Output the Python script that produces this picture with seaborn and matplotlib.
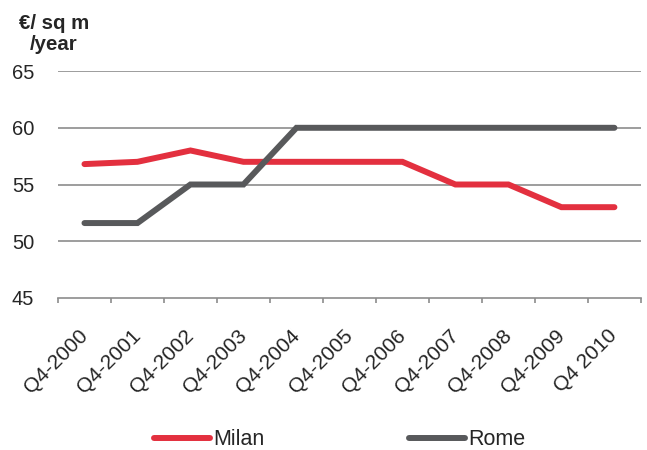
import numpy as np
import pandas as pd
import matplotlib
matplotlib.use("Agg")
import matplotlib.pyplot as plt
import seaborn as sns
from matplotlib.lines import Line2D

periods = ["Q4-2000", "Q4-2001", "Q4-2002", "Q4-2003", "Q4-2004", "Q4-2005",
           "Q4-2006", "Q4-2007", "Q4-2008", "Q4-2009", "Q4 2010"]
milan = [56.8, 57.0, 58.0, 57.0, 57.0, 57.0, 57.0, 55.0, 55.0, 53.0, 53.0]
rome = [51.6, 51.6, 55.0, 55.0, 60.0, 60.0, 60.0, 60.0, 60.0, 60.0, 60.0]
y_ticks = [45, 50, 55, 60, 65]

RED = "#E3303F"
GREY = "#58595B"
AXIS_GREY = "#8C8C8C"

df = pd.DataFrame({
    "idx": list(range(len(periods))) * 2,
    "value": milan + rome,
    "city": ["Milan"] * len(periods) + ["Rome"] * len(periods),
})

sns.set_style("white")
plt.rcParams["font.family"] = ["Liberation Sans", "DejaVu Sans"]

fig = plt.figure(figsize=(6.47, 4.5), dpi=100)
ax = fig.add_axes([0.0896, 0.338, 0.901, 0.504])

sns.lineplot(data=df, x="idx", y="value", hue="city",
             palette={"Milan": RED, "Rome": GREY}, linewidth=4.3,
             solid_capstyle="round", solid_joinstyle="miter",
             legend=False, ax=ax, zorder=3)

ax.set_xlim(-0.5, len(periods) - 0.5)
ax.set_ylim(45, 65)
ax.set_yticks(y_ticks)
ax.set_yticklabels([str(v) for v in y_ticks], fontsize=14.5)
for v in y_ticks[1:]:
    ax.axhline(v, color=AXIS_GREY, linewidth=1.2, zorder=1)

ax.set_xticks(range(len(periods)))
ax.set_xticklabels(periods, rotation=45, ha="right", va="center",
                   rotation_mode="anchor", fontsize=15)
ax.set_xticks(np.arange(-0.5, len(periods), 1.0), minor=True)
ax.tick_params(axis="x", which="major", bottom=True, length=0, pad=25)
ax.tick_params(axis="x", which="minor", bottom=True, length=3.6, width=1.2,
               color=AXIS_GREY, direction="out")
ax.tick_params(axis="y", left=False, length=0, pad=17)
ax.set_xlabel("")
ax.set_ylabel("")

for side in ["top", "right", "left"]:
    ax.spines[side].set_visible(False)
ax.spines["bottom"].set_color(AXIS_GREY)
ax.spines["bottom"].set_linewidth(1.2)

fig.text(0.083, 0.968, "€/ sq m\n/year", ha="center", va="top",
         fontsize=14.7, fontweight="bold", linespacing=1.08)

handles = [Line2D([0], [0], color=RED, linewidth=4.3, solid_capstyle="round"),
           Line2D([0], [0], color=GREY, linewidth=4.3, solid_capstyle="round")]
fig.legend(handles, ["Milan", "Rome"], loc="center", ncol=2,
           bbox_to_anchor=(0.525, 0.023), frameon=False, fontsize=15.5,
           handlelength=2.6, handletextpad=0.15, columnspacing=6.7,
           borderpad=0, borderaxespad=0)

fig.savefig("out.png", dpi=100)
